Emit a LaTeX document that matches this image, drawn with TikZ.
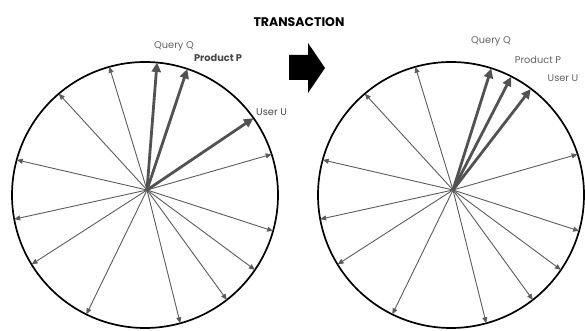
\documentclass[tikz,border=0pt]{standalone}
\usepackage{fontspec}
\setmainfont{Poppins}
\usetikzlibrary{arrows.meta,calc}
\tikzset{
  thinvec/.style={draw=black!64, line width=0.9pt, -{Triangle[length=6pt,width=5pt]}},
  thickvec/.style={draw=black!68, line width=2.8pt, -{Triangle[length=9.5pt,width=9pt]}},
  rim/.style={line width=1.7pt},
  lab/.style={font=\fontsize{9.8}{11}\selectfont, text=black!62, inner sep=0pt},
}
\begin{document}
\begin{tikzpicture}[x=1pt,y=1pt]
\useasboundingbox (0,0) rectangle (585,331);
\node[font=\bfseries\fontsize{12.5}{14}\selectfont, inner sep=0pt] (title) at (299,309) {TRANSACTION};
\fill (289,251) -- (308,251) -- (308,238) -- (325,263) -- (308,288) -- (308,276) -- (289,276) -- cycle;
% two spheres, the same spread of thin vectors
\foreach \s/\n in {0/L,306/R}{
  \draw[rim] (145+\s,136) circle (133pt);
  \coordinate (o\n) at (147+\s,141);
  \foreach \a/\t [count=\i] in {107/128.8,132.5/130.6,167/133.7,192.4/136,212.8/137.3,244/138.3,284/137.3,306/135.8,323.5/134.3,342/132.6,16/129.7}{
    \coordinate (\n\i) at ($(o\n)+(\a:\t)$);
    \draw[thinvec] (o\n) -- (\n\i);
  }
}
% before the transaction
\coordinate (qL) at ($(oL)+(85.5:127.9)$);
\coordinate (pL) at ($(oL)+(71.6:127.6)$);
\coordinate (uL) at ($(oL)+(34:128.4)$);
\draw[thickvec] (oL) -- (qL);
\draw[thickvec] (oL) -- (pL);
\draw[thickvec] (oL) -- (uL);
\node[lab] (qtL) at (174,285) {Query Q};
\node[lab, font=\bfseries\fontsize{9.8}{11}\selectfont, text=black!72] (ptL) at (218,273) {Product P};
\node[lab, anchor=west, text=black!72] (utL) at (256,219) {User U};
% after the transaction
\coordinate (qR) at ($(oR)+(72.5:127.4)$);
\coordinate (pR) at ($(oR)+(62.8:127.4)$);
\coordinate (uR) at ($(oR)+(52.4:127.4)$);
\draw[thickvec] (oR) -- (qR);
\draw[thickvec] (oR) -- (pR);
\draw[thickvec] (oR) -- (uR);
\node[lab] (qtR) at (491,290) {Query Q};
\node[lab] (ptR) at (538,271) {Product P};
\node[lab] (utR) at (563,253) {User U};
\end{tikzpicture}
\end{document}
